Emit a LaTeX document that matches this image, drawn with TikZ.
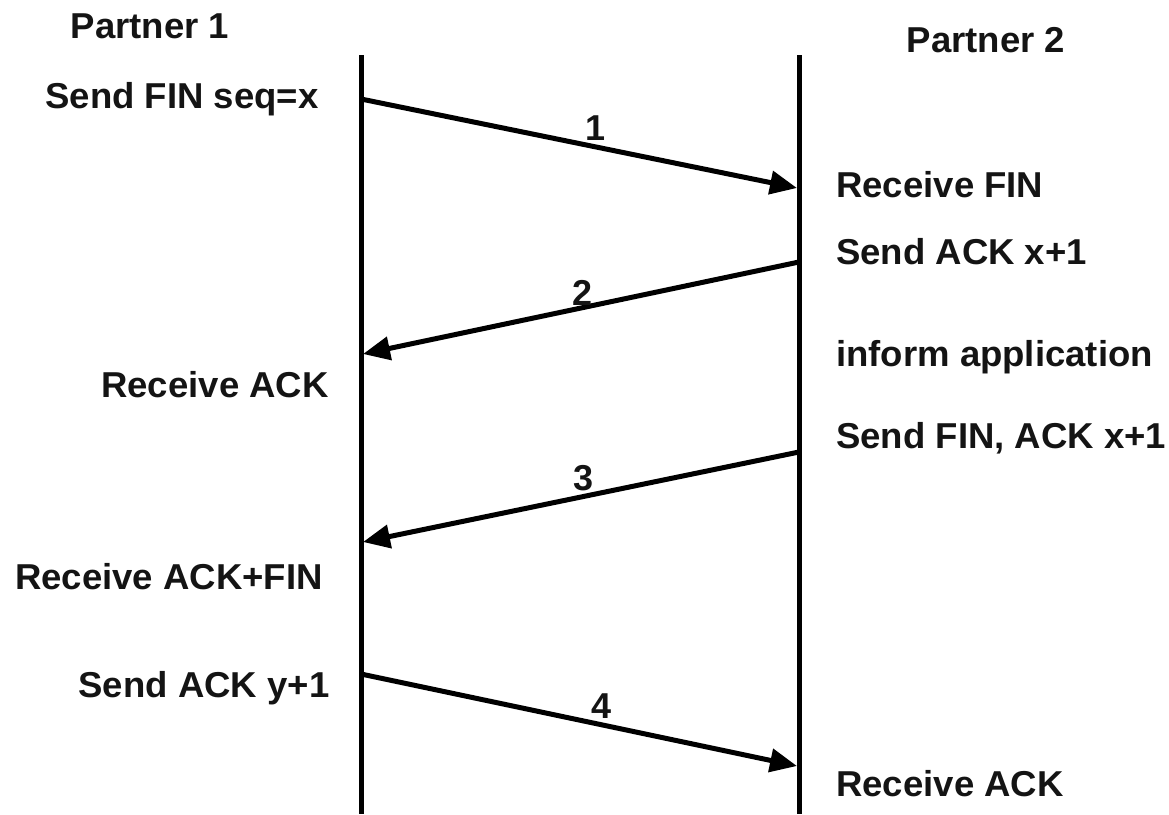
\documentclass[tikz,border=0pt]{standalone}
\usepackage{fontspec}
\setmainfont{Liberation Sans}
\usetikzlibrary{arrows.meta}
% slightly widened bold lettering
\newcommand{\wtext}[1]{\scalebox{1.015}[1]{#1}}
\tikzset{
  lbl/.style={font=\bfseries\fontsize{36}{40}\selectfont, inner sep=0pt, text=black!92},
  lifeline/.style={line width=5pt},
  msg/.style={line width=5pt, -{Triangle[length=27pt,width=23pt]}},
}
\begin{document}
\begin{tikzpicture}[x=1pt,y=-1pt]
  \useasboundingbox (0,0) rectangle (1169,814);

  % lifelines of the two partners
  \coordinate (l1top) at (361,55);
  \coordinate (l1bot) at (361,814);
  \coordinate (l2top) at (799,55);
  \coordinate (l2bot) at (799,814);
  \draw[lifeline] (l1top) -- (l1bot);
  \draw[lifeline] (l2top) -- (l2bot);

  % message end points on the lifelines
  \coordinate (m1s) at (361,99);
  \coordinate (m1e) at (797,188);
  \coordinate (m2s) at (799,262);
  \coordinate (m2e) at (363,354);
  \coordinate (m3s) at (799,452);
  \coordinate (m3e) at (363,542);
  \coordinate (m4s) at (361,674);
  \coordinate (m4e) at (797,766);

  \draw[msg] (m1s) -- (m1e);
  \draw[msg] (m2s) -- (m2e);
  \draw[msg] (m3s) -- (m3e);
  \draw[msg] (m4s) -- (m4e);

  % message numbers
  \node[lbl, anchor=base] (n1) at (596,140) {1};
  \node[lbl, anchor=base] (n2) at (583,305) {2};
  \node[lbl, anchor=base] (n3) at (584,490) {3};
  \node[lbl, anchor=base] (n4) at (602,718) {4};

  % headers
  \node[lbl, anchor=base] (p1) at (150,38) {\wtext{Partner 1}};
  \node[lbl, anchor=base] (p2) at (986,52) {\wtext{Partner 2}};

  % events of partner 1
  \node[lbl, anchor=base] (a1) at (182,108) {\wtext{Send FIN seq=x}};
  \node[lbl, anchor=base] (a2) at (215,397) {\wtext{Receive ACK}};
  \node[lbl, anchor=base] (a3) at (169,589) {\wtext{Receive ACK+FIN}};
  \node[lbl, anchor=base] (a4) at (204,697) {\wtext{Send ACK y+1}};

  % events of partner 2
  \node[lbl, anchor=base west] (b1) at (836,197) {\wtext{Receive FIN}};
  \node[lbl, anchor=base west] (b2) at (836,264) {\wtext{Send ACK x+1}};
  \node[lbl, anchor=base west] (b3) at (836,366) {\wtext{inform application}};
  \node[lbl, anchor=base west] (b4) at (836,448) {\wtext{Send FIN, ACK x+1}};
  \node[lbl, anchor=base west] (b5) at (836,796) {\wtext{Receive ACK}};
\end{tikzpicture}
\end{document}
